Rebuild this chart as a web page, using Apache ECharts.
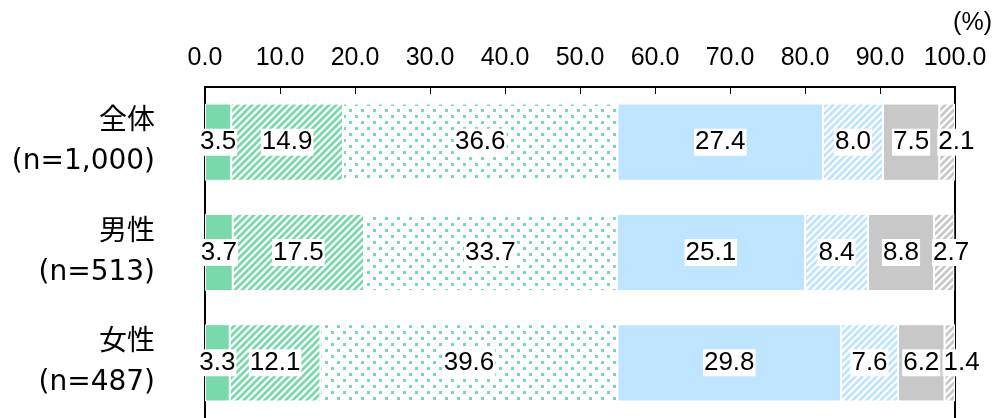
<!DOCTYPE html>
<html>
<head>
<meta charset="utf-8">
<script src="https://cdn.jsdelivr.net/npm/echarts@6/dist/echarts.min.js"></script>
<style>html,body{margin:0;padding:0;background:#fff}#c{width:996px;height:418px}</style>
</head>
<body>
<div id="c"></div>
<script>
const categories = ['全体\n(n=1,000)', '男性\n(n=513)', '女性\n(n=487)'];
const xTicks = [0, 10, 20, 30, 40, 50, 60, 70, 80, 90, 100];
const s1 = [3.5, 3.7, 3.3];
const s2 = [14.9, 17.5, 12.1];
const s3 = [36.6, 33.7, 39.6];
const s4 = [27.4, 25.1, 29.8];
const s5 = [8.0, 8.4, 7.6];
const s6 = [7.5, 8.8, 6.2];
const s7 = [2.1, 2.7, 1.4];

const GREEN = '#7ad9ab', BLUE = '#bee4ff', GRAY = '#c8c8c8';

function hatch(color) {
  const c = document.createElement('canvas');
  const s = 7;
  c.width = s; c.height = s;
  const g = c.getContext('2d');
  g.fillStyle = '#fff'; g.fillRect(0, 0, s, s);
  g.strokeStyle = color; g.lineWidth = 2.7;
  g.beginPath();
  g.moveTo(-1, s + 1); g.lineTo(s + 1, -1);
  g.moveTo(-2, 2); g.lineTo(2, -2);
  g.moveTo(s - 2, s + 2); g.lineTo(s + 2, s - 2);
  g.stroke();
  return { image: c, repeat: 'repeat' };
}
function dots(color) {
  const c = document.createElement('canvas');
  const s = 12;
  c.width = s; c.height = s;
  const g = c.getContext('2d');
  g.fillStyle = '#fff'; g.fillRect(0, 0, s, s);
  g.fillStyle = color;
  g.fillRect(1, 1, 3, 3);
  g.fillRect(7, 7, 3, 3);
  return { image: c, repeat: 'repeat' };
}

const fills = [GREEN, hatch(GREEN), dots(GREEN), BLUE, hatch(BLUE), GRAY, hatch(GRAY)];
const data = [s1, s2, s3, s4, s5, s6, s7];

const labelBase = {
  show: true,
  fontFamily: 'Liberation Sans, Arial, sans-serif',
  fontSize: 26,
  color: '#000',
  backgroundColor: '#fff',
  padding: [1, 1, 0, 1],
  formatter: p => p.value.toFixed(1)
};

const series = data.map((d, i) => ({
  type: 'bar',
  stack: 'total',
  barWidth: '70%',
  data: d,
  itemStyle: { color: fills[i], borderColor: '#fff', borderWidth: 1 },
  label: Object.assign({}, labelBase, i === 6 ? { position: 'insideLeft', distance: -2 } : { position: 'inside' }),
  emphasis: { disabled: true }
}));

const chart = echarts.init(document.getElementById('c'));
chart.setOption({
  animation: false,
  grid: { left: 205, right: 41, top: 87, bottom: -5 },
  xAxis: {
    type: 'value', position: 'top', min: 0, max: 100, interval: 10,
    axisLine: { show: true, lineStyle: { color: '#000', width: 2 } },
    axisTick: { show: true, inside: true, length: 7, lineStyle: { color: '#000', width: 1 } },
    splitLine: { show: false },
    axisLabel: {
      margin: 16, color: '#000', fontSize: 25,
      fontFamily: 'Liberation Sans, Arial, sans-serif',
      formatter: v => xTicks.includes(v) ? v.toFixed(1) : ''
    }
  },
  yAxis: [{
    type: 'category', inverse: true, data: categories,
    axisLine: { show: true, lineStyle: { color: '#000', width: 2 } },
    axisTick: { show: false },
    axisLabel: {
      margin: 50, color: '#000', fontSize: 28, lineHeight: 40, align: 'right',
      fontFamily: 'DejaVu Sans, Noto Sans CJK JP, sans-serif'
    }
  }, {
    type: 'category', inverse: true, data: categories, position: 'right',
    axisLine: { show: true, lineStyle: { color: '#000', width: 2 } },
    axisTick: { show: false }, axisLabel: { show: false }
  }],
  graphic: [{
    type: 'text', right: 4, top: 11,
    style: { text: '(%)', fontSize: 25, fontFamily: 'Liberation Sans, Arial, sans-serif', fill: '#000' }
  }],
  series: series
});
</script>
</body>
</html>
